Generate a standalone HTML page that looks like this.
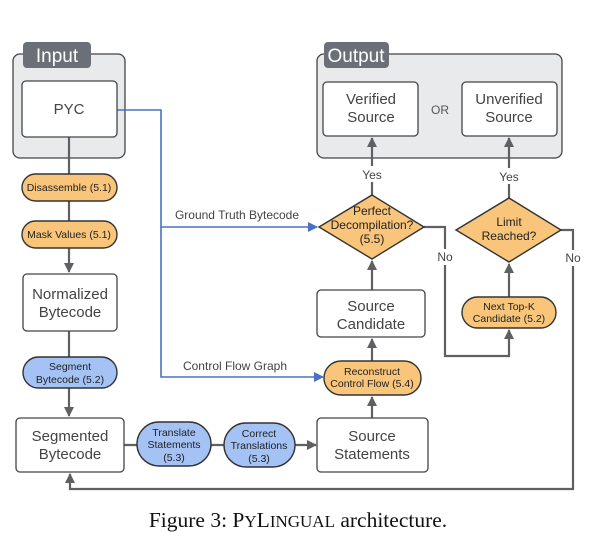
<!DOCTYPE html>
<html><head><meta charset="utf-8"><style>
html,body{margin:0;padding:0;background:#fff;}
svg{display:block;font-family:"Liberation Sans",sans-serif;}
</style></head><body>
<svg width="606" height="542" viewBox="0 0 606 542" xmlns="http://www.w3.org/2000/svg">
<defs>
<marker id="ag" markerWidth="10" markerHeight="10" refX="9" refY="5" orient="auto" markerUnits="userSpaceOnUse"><path d="M0,0 L10,5 L0,10 z" fill="#5f6063"/></marker>
<marker id="ab" markerWidth="10" markerHeight="10" refX="9" refY="5" orient="auto" markerUnits="userSpaceOnUse"><path d="M0,0 L10,5 L0,10 z" fill="#4a72c4"/></marker>
</defs>
<rect x="13" y="54" width="112" height="104" rx="7" fill="#e9eaec" stroke="#444" stroke-width="1.3"/>
<rect x="23" y="42" width="68" height="26" rx="4" fill="#6b6f78"/>
<text x="57" y="62" font-size="19" fill="#fff" text-anchor="middle">Input</text>
<rect x="317" y="54" width="245" height="104" rx="7" fill="#e9eaec" stroke="#444" stroke-width="1.3"/>
<rect x="324" y="42" width="65" height="26" rx="4" fill="#6b6f78"/>
<text x="356" y="62" font-size="19" fill="#fff" text-anchor="middle">Output</text>

<g fill="none" stroke="#5f6063" stroke-width="2.2">
<line x1="69" y1="137" x2="69" y2="272" marker-end="url(#ag)"/>
<line x1="69" y1="331" x2="69" y2="416" marker-end="url(#ag)"/>
<line x1="124" y1="445" x2="316" y2="445" marker-end="url(#ag)"/>
<line x1="372" y1="418" x2="372" y2="397" marker-end="url(#ag)"/>
<line x1="372" y1="361" x2="372" y2="339" marker-end="url(#ag)"/>
<line x1="372" y1="290" x2="372" y2="261" marker-end="url(#ag)"/>
<line x1="372" y1="195" x2="372" y2="138" marker-end="url(#ag)"/>
<line x1="509" y1="198" x2="509" y2="138" marker-end="url(#ag)"/>
<line x1="509" y1="297" x2="509" y2="264" marker-end="url(#ag)"/>
<path d="M424,227 H445 V356 H509 V330" marker-end="url(#ag)"/>
<path d="M561,230 H573 V489 H70 V474" marker-end="url(#ag)"/>
</g>
<g fill="none" stroke="#4a72c4" stroke-width="1.6">
<path d="M117,110 H161 V227 H317" marker-end="url(#ab)"/>
<path d="M161,227 V377 H323" marker-end="url(#ab)"/>
</g>
<rect x="360" y="166" width="24" height="16" fill="#fff"/>
<text x="372" y="179" font-size="12" fill="#444" text-anchor="middle">Yes</text>
<rect x="497" y="168" width="24" height="16" fill="#fff"/>
<text x="509" y="181" font-size="12" fill="#444" text-anchor="middle">Yes</text>
<rect x="437" y="249" width="18" height="16" fill="#fff"/>
<text x="445" y="261" font-size="12" fill="#444" text-anchor="middle">No</text>
<rect x="565" y="250" width="18" height="16" fill="#fff"/>
<text x="573" y="262" font-size="12" fill="#444" text-anchor="middle">No</text>
<text x="237" y="219" font-size="12" fill="#444" text-anchor="middle">Ground Truth Bytecode</text>
<text x="235" y="370" font-size="12" fill="#444" text-anchor="middle">Control Flow Graph</text>
<text x="440" y="114" font-size="12" fill="#555" text-anchor="middle">OR</text>

<g fill="#fff" stroke="#444" stroke-width="1.3">
<rect x="22" y="81" width="95" height="56" rx="4"/>
<rect x="23" y="274" width="94" height="57" rx="4"/>
<rect x="16" y="418" width="108" height="54" rx="4"/>
<rect x="317" y="418" width="111" height="54" rx="4"/>
<rect x="317" y="290" width="108" height="47" rx="4"/>
<rect x="323" y="82" width="95" height="54" rx="4"/>
<rect x="462" y="82" width="95" height="54" rx="4"/>
</g>
<g font-size="15" fill="#444" text-anchor="middle">
<text x="69" y="114">PYC</text>
<text x="70" y="299">Normalized</text><text x="70" y="317">Bytecode</text>
<text x="70" y="441">Segmented</text><text x="70" y="459">Bytecode</text>
<text x="372" y="441">Source</text><text x="372" y="459">Statements</text>
<text x="371" y="311">Source</text><text x="371" y="329">Candidate</text>
<text x="371" y="104">Verified</text><text x="371" y="122">Source</text>
<text x="509" y="104">Unverified</text><text x="509" y="122">Source</text>
</g>

<g stroke="#333" stroke-width="1.4">
<rect x="22" y="174" width="95" height="27" rx="13.5" fill="#f8c57a"/>
<rect x="22" y="221" width="95" height="27" rx="13.5" fill="#f8c57a"/>
<rect x="23" y="357" width="94" height="31" rx="15.5" fill="#a4c2f4"/>
<rect x="137" y="422" width="74" height="44" rx="22" fill="#a4c2f4"/>
<rect x="224" y="423" width="71" height="44" rx="22" fill="#a4c2f4"/>
<rect x="324" y="361" width="97" height="34" rx="17" fill="#f8c57a"/>
<rect x="462" y="297" width="94" height="31" rx="15.5" fill="#f8c57a"/>
<polygon points="319,227 372,195 424,227 372,259" fill="#f8c57a"/>
<polygon points="456,230 509,198 561,230 509,262" fill="#f8c57a"/>
</g>
<g font-size="10.5" fill="#222" text-anchor="middle">
<text x="69" y="191">Disassemble (5.1)</text>
<text x="69" y="238">Mask Values (5.1)</text>
<text x="70" y="370">Segment</text><text x="70" y="383">Bytecode (5.2)</text>
<text x="174" y="436">Translate</text><text x="174" y="448">Statements</text><text x="174" y="461">(5.3)</text>
<text x="259" y="437">Correct</text><text x="259" y="449">Translations</text><text x="259" y="462">(5.3)</text>
<text x="372" y="375">Reconstruct</text><text x="372" y="387">Control Flow (5.4)</text>
<text x="509" y="310">Next Top-K</text><text x="509" y="322">Candidate (5.2)</text>
</g>
<g font-size="12" fill="#222" text-anchor="middle">
<text x="372" y="215">Perfect</text><text x="372" y="229">Decompilation?</text><text x="372" y="243">(5.5)</text>
<text x="509" y="226">Limit</text><text x="509" y="240">Reached?</text>
</g>

<text x="298" y="527" font-family="Liberation Serif,serif" font-size="21.5" fill="#111" text-anchor="middle">Figure 3: P<tspan font-size="17">Y</tspan>L<tspan font-size="17">INGUAL</tspan> architecture.</text>
</svg>
</body></html>
